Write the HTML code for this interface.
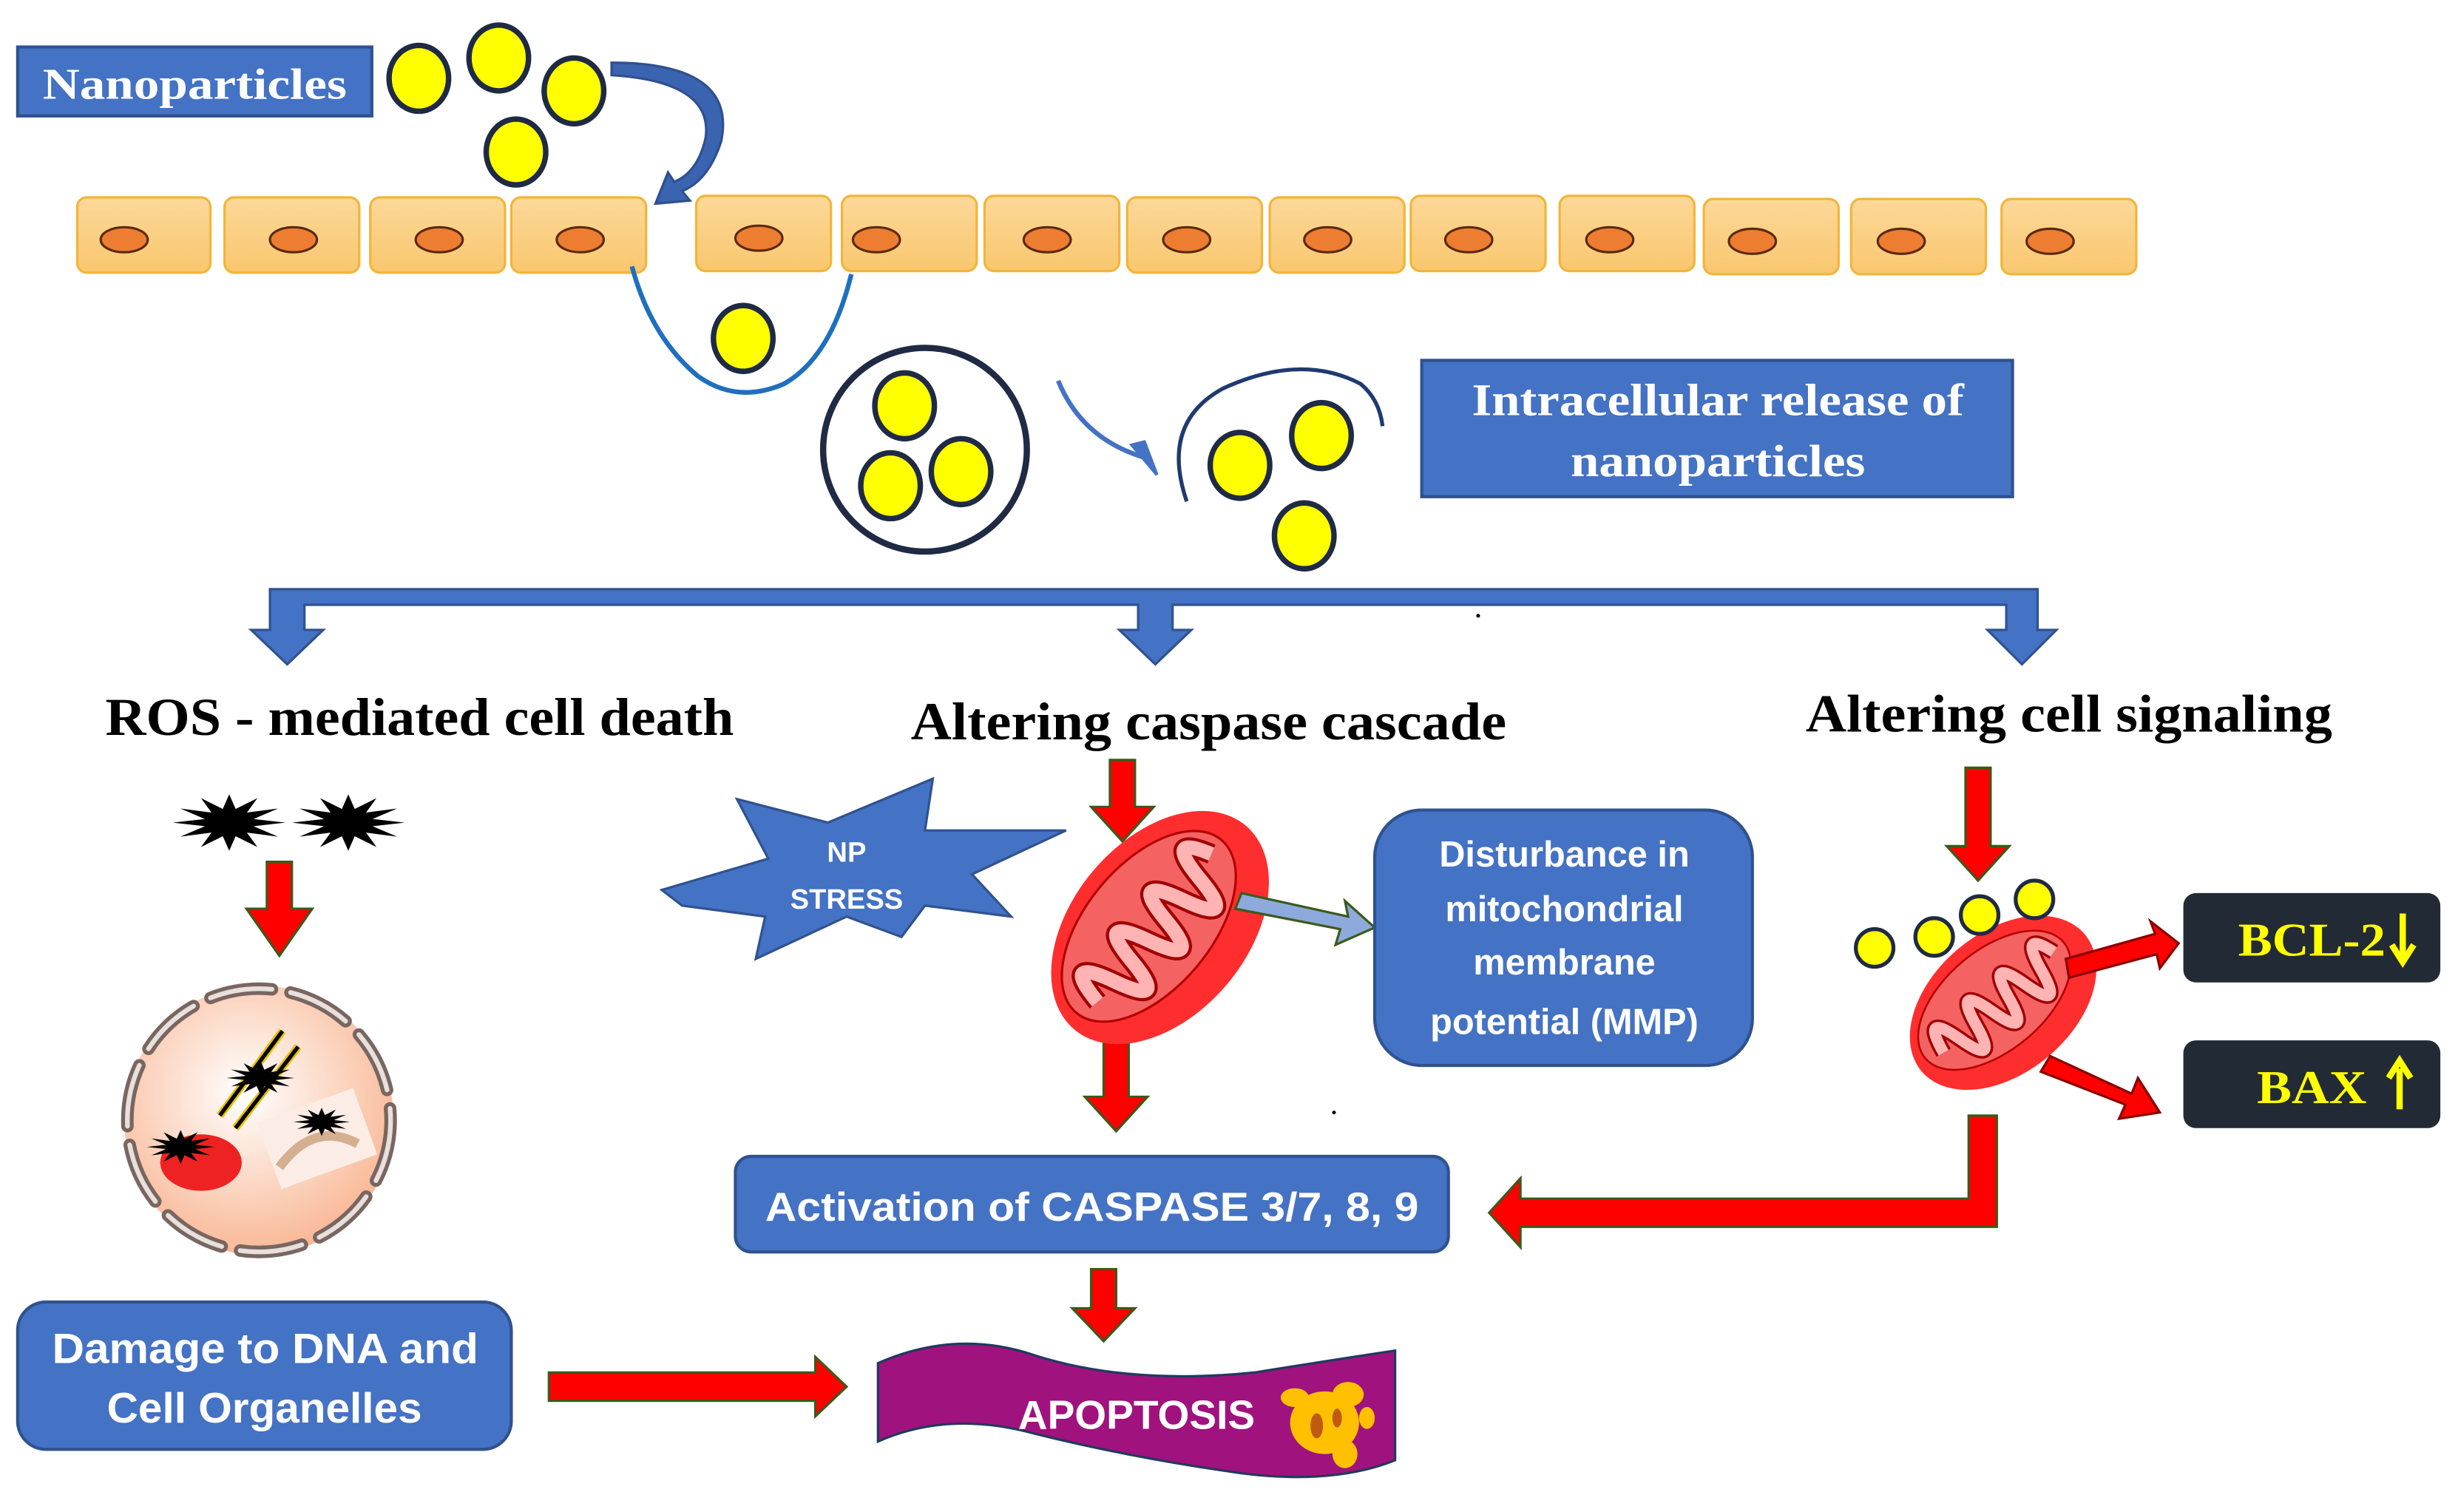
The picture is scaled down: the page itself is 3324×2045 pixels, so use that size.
<!DOCTYPE html>
<html><head><meta charset="utf-8"><style>
html,body{margin:0;padding:0;background:#fff;}
svg{display:block;}
.ser{font-family:"Liberation Serif",serif;font-weight:bold;}
.san{font-family:"Liberation Sans",sans-serif;font-weight:bold;}
</style></head><body>
<svg width="3324" height="2045" viewBox="0 0 1568 965" xmlns="http://www.w3.org/2000/svg">
<defs>
<linearGradient id="cellg" x1="0" y1="0" x2="0" y2="1"><stop offset="0" stop-color="#FCD899"/><stop offset="1" stop-color="#F9C76E"/></linearGradient>
<radialGradient id="peach" cx="0.45" cy="0.4" r="0.6"><stop offset="0" stop-color="#FFFFFF"/><stop offset="1" stop-color="#F9B896"/></radialGradient>
<polygon id="bstar" points="36,0 15.5,2.3 31.2,9 11.3,6.4 18,15.6 4.1,8.7 0,18 -4.1,8.7 -18,15.6 -11.3,6.4 -31.2,9 -15.5,2.3 -36,0 -15.5,-2.3 -31.2,-9 -11.3,-6.4 -18,-15.6 -4.1,-8.7 0,-18 4.1,-8.7 18,-15.6 11.3,-6.4 31.2,-9 15.5,-2.3" fill="#000"/>
<g id="mito">
<ellipse cx="0" cy="0" rx="85" ry="56" fill="#FF2E2E"/>
<ellipse cx="-4" cy="-6" rx="72" ry="40" fill="#F46262" stroke="#B50000" stroke-width="1.5"/>
<path d="M-62,0 Q-55,-38 -45,0 T-28,0 T-11,0 T6,0 T23,0 T40,0 T57,-5" fill="none" stroke="#A00000" stroke-width="13"/>
<path d="M-62,0 Q-55,-38 -45,0 T-28,0 T-11,0 T6,0 T23,0 T40,0 T57,-5" fill="none" stroke="#FFB3B3" stroke-width="9"/>
</g>
<g id="np"><ellipse cx="0" cy="0" rx="19" ry="21" fill="#FFFF00" stroke="#1F2A44" stroke-width="3.5"/></g>
</defs>

<rect x="11" y="30" width="226" height="44" fill="#4472C4" stroke="#2F528F" stroke-width="2"/>
<text x="27" y="63" class="ser" font-size="28" fill="#fff" textLength="194" lengthAdjust="spacingAndGlyphs">Nanoparticles</text>
<use href="#np" x="267" y="50"/>
<use href="#np" x="318" y="37"/>
<use href="#np" x="366" y="58"/>
<use href="#np" x="329" y="97"/>
<path d="M390,40 Q470,40 460,90 Q452,115 435,122 L440,128 L418,130 L426,110 L430,116 Q445,110 450,88 Q455,52 390,48 Z" fill="#3A63B0" stroke="#2F4F8F" stroke-width="1.5"/>

<g stroke="#F2B53A" stroke-width="1.5" fill="url(#cellg)">
<rect x="49" y="126" width="85" height="48" rx="6"/>
<rect x="143" y="126" width="86" height="48" rx="6"/>
<rect x="236" y="126" width="86" height="48" rx="6"/>
<rect x="326" y="126" width="86" height="48" rx="6"/>
<rect x="444" y="125" width="86" height="48" rx="6"/>
<rect x="537" y="125" width="86" height="48" rx="6"/>
<rect x="628" y="125" width="86" height="48" rx="6"/>
<rect x="719" y="126" width="86" height="48" rx="6"/>
<rect x="810" y="126" width="86" height="48" rx="6"/>
<rect x="900" y="125" width="86" height="48" rx="6"/>
<rect x="995" y="125" width="86" height="48" rx="6"/>
<rect x="1087" y="127" width="86" height="48" rx="6"/>
<rect x="1181" y="127" width="86" height="48" rx="6"/>
<rect x="1277" y="127" width="86" height="48" rx="6"/>
</g>
<g fill="#ED7D31" stroke="#5A2A10" stroke-width="1.5">
<ellipse cx="79" cy="153" rx="15" ry="8"/><ellipse cx="187" cy="153" rx="15" ry="8"/>
<ellipse cx="280" cy="153" rx="15" ry="8"/><ellipse cx="370" cy="153" rx="15" ry="8"/>
<ellipse cx="484" cy="152" rx="15" ry="8"/><ellipse cx="559" cy="153" rx="15" ry="8"/>
<ellipse cx="668" cy="153" rx="15" ry="8"/><ellipse cx="757" cy="153" rx="15" ry="8"/>
<ellipse cx="847" cy="153" rx="15" ry="8"/><ellipse cx="937" cy="153" rx="15" ry="8"/>
<ellipse cx="1027" cy="153" rx="15" ry="8"/><ellipse cx="1118" cy="154" rx="15" ry="8"/>
<ellipse cx="1213" cy="154" rx="15" ry="8"/><ellipse cx="1308" cy="154" rx="15" ry="8"/>
</g>

<path d="M403,170 Q415,215 445,240 Q470,258 500,245 Q530,228 543,175" fill="none" stroke="#1F6FBF" stroke-width="3"/>
<use href="#np" x="474" y="216"/>
<circle cx="590" cy="287" r="65" fill="#fff" stroke="#1F2A44" stroke-width="4"/>
<use href="#np" x="577" y="259"/>
<use href="#np" x="568" y="310"/>
<use href="#np" x="613" y="301"/>
<path d="M675,243 Q690,280 730,292" fill="none" stroke="#4472C4" stroke-width="3"/>
<polygon points="722,284 738,303 730,282" fill="#4472C4" stroke="#4472C4" stroke-width="2"/>
<path d="M757,320 Q740,270 780,248 Q830,225 868,245 Q880,255 882,272" fill="none" stroke="#1F3A6F" stroke-width="2.5"/>
<use href="#np" x="791" y="297"/>
<use href="#np" x="843" y="278"/>
<use href="#np" x="832" y="342"/>
<rect x="907" y="230" width="377" height="87" fill="#4472C4" stroke="#2F528F" stroke-width="2"/>
<text x="939" y="265" class="ser" font-size="29" fill="#fff" textLength="314" lengthAdjust="spacingAndGlyphs">Intracellular release of</text>
<text x="1002" y="304" class="ser" font-size="29" fill="#fff" textLength="188" lengthAdjust="spacingAndGlyphs">nanoparticles</text>

<g fill="#4472C4" stroke="#2F528F" stroke-width="1.5">
<path d="M172,376 H1300 V402 H1312 L1290,424 L1268,402 H1280 V386 H748 V402 H760 L737,424 L714,402 H726 V386 H194 V402 H206 L183,424 L160,402 H172 Z"/>
</g>

<text x="67" y="469" class="ser" font-size="34" fill="#000" textLength="401" lengthAdjust="spacingAndGlyphs">ROS - mediated cell death</text>
<text x="581" y="472" class="ser" font-size="34" fill="#000" textLength="380" lengthAdjust="spacingAndGlyphs">Altering caspase cascade</text>
<text x="1152" y="467" class="ser" font-size="34" fill="#000" textLength="336" lengthAdjust="spacingAndGlyphs">Altering cell signaling</text>

<use href="#bstar" x="146" y="525"/>
<use href="#bstar" x="222" y="525"/>
<g fill="#FF0000" stroke="#3A5A1A" stroke-width="1.5">
<path d="M170,550 H186 V580 H199 L178,610 L157,580 H170 Z"/>
<path d="M708,485 H724 V515 H736 L716,537 L696,515 H708 Z"/>
<path d="M704,660 H720 V700 H732 L712,722 L692,700 H704 Z"/>
<path d="M1254,490 H1270 V540 H1282 L1262,562 L1242,540 H1254 Z"/>
<path d="M696,810 H712 V835 H724 L704,856 L684,835 H696 Z"/>
<path d="M350,876 H520 V866 L540,885 L520,904 V894 H350 Z"/>
<path d="M1256,712 H1274 V783 H970 V796 L950,774 L970,752 V765 H1256 Z"/>
</g>
<circle cx="165" cy="715" r="86" fill="url(#peach)"/>
<circle cx="165" cy="715" r="84" fill="none" stroke="#7A6660" stroke-width="8" stroke-dasharray="40 12" stroke-linecap="round"/>
<circle cx="165" cy="715" r="84" fill="none" stroke="#E8E0DC" stroke-width="3" stroke-dasharray="40 12" stroke-linecap="round"/>
<ellipse cx="128" cy="742" rx="26" ry="18" fill="#EE2222"/>
<rect x="170" y="705" width="65" height="45" fill="#FBEDE6" transform="rotate(-20 200 728)"/>
<path d="M178,745 Q200,715 228,730" fill="none" stroke="#D4B090" stroke-width="6"/>
<path d="M140,712 L180,658 M150,720 L190,668" stroke="#E8C000" stroke-width="5" fill="none"/>
<path d="M140,712 L180,658 M150,720 L190,668" stroke="#000" stroke-width="2.5" fill="none"/>
<use href="#bstar" transform="translate(166,688) scale(0.6)"/>
<use href="#bstar" transform="translate(115,732) scale(0.6)"/>
<use href="#bstar" transform="translate(205,716) scale(0.5)"/>

<polygon points="422,568 490,548 470,510 528,525 595,497 590,530 680,530 620,558 645,585 590,578 575,598 540,585 482,612 488,585 435,578" fill="#4472C4" stroke="#2F528F" stroke-width="1.5"/>
<text x="540" y="550" text-anchor="middle" class="san" font-size="18" fill="#fff">NP</text>
<text x="540" y="580" text-anchor="middle" class="san" font-size="18" fill="#fff">STRESS</text>

<g transform="translate(740,592) rotate(-50)"><use href="#mito"/></g>
<polygon points="792,570 860,585 858,575 877,592 852,603 855,593 788,580" fill="#8EA9DB" stroke="#3A5A1A" stroke-width="1.5"/>
<rect x="877" y="517" width="241" height="163" rx="30" fill="#4472C4" stroke="#2F528F" stroke-width="2"/>
<g class="san" font-size="23" fill="#fff" text-anchor="middle">
<text x="998" y="553">Disturbance in</text>
<text x="998" y="588">mitochondrial</text>
<text x="998" y="622">membrane</text>
<text x="998" y="660">potential (MMP)</text>
</g>

<g transform="translate(1278,640) rotate(-40) scale(0.8)"><use href="#mito"/></g>
<g fill="#FFFF00" stroke="#1F2A44" stroke-width="2.5">
<circle cx="1196" cy="605" r="12"/><circle cx="1234" cy="598" r="12"/><circle cx="1263" cy="584" r="12"/><circle cx="1298" cy="574" r="12"/>
</g>
<g fill="#FF0000" stroke="#8B0000" stroke-width="1.5">
<polygon points="1318,612 1375,596 1372,588 1390,602 1378,618 1376,609 1320,624"/>
<polygon points="1308,674 1360,698 1364,688 1378,710 1352,714 1356,705 1302,684"/>
</g>
<rect x="1393" y="570" width="164" height="57" rx="8" fill="#222A35"/>
<text x="1428" y="610" class="ser" font-size="30" fill="#FFFF00" textLength="94" lengthAdjust="spacingAndGlyphs">BCL-2</text>
<path d="M1533,583 V610 M1526,603 L1533,614 L1540,603" stroke="#FFFF00" stroke-width="4" fill="none"/>
<rect x="1393" y="664" width="164" height="56" rx="8" fill="#222A35"/>
<text x="1440" y="704" class="ser" font-size="30" fill="#FFFF00" textLength="70" lengthAdjust="spacingAndGlyphs">BAX</text>
<path d="M1531,682 V708 M1524,688 L1531,677 L1538,688" stroke="#FFFF00" stroke-width="4" fill="none"/>

<rect x="469" y="738" width="455" height="61" rx="10" fill="#4472C4" stroke="#2F528F" stroke-width="2"/>
<text x="488" y="779" class="san" font-size="26" fill="#fff" textLength="417" lengthAdjust="spacingAndGlyphs">Activation of CASPASE 3/7, 8, 9</text>

<rect x="11" y="831" width="315" height="94" rx="18" fill="#4472C4" stroke="#2F528F" stroke-width="2"/>
<text x="33" y="870" class="san" font-size="27" fill="#fff" textLength="272" lengthAdjust="spacingAndGlyphs">Damage to DNA and</text>
<text x="68" y="908" class="san" font-size="27" fill="#fff" textLength="201" lengthAdjust="spacingAndGlyphs">Cell Organelles</text>

<path d="M560,870 Q610,848 660,865 Q720,884 800,876 Q850,868 890,862 L890,932 Q850,948 790,940 Q720,930 660,915 Q605,900 560,920 Z" fill="#A0127E" stroke="#1F3A5F" stroke-width="1.5"/>
<text x="725" y="912" text-anchor="middle" class="san" font-size="26" fill="#fff">APOPTOSIS</text>
<g fill="#FFC000">
<ellipse cx="845" cy="908" rx="22" ry="20"/>
<ellipse cx="860" cy="890" rx="10" ry="8"/>
<ellipse cx="826" cy="892" rx="9" ry="6"/>
<ellipse cx="858" cy="928" rx="8" ry="9"/>
<ellipse cx="872" cy="905" rx="5" ry="7"/>
</g>
<ellipse cx="840" cy="910" rx="4" ry="8" fill="#C05A10"/>
<ellipse cx="853" cy="905" rx="3" ry="6" fill="#C05A10"/>
<circle cx="943" cy="393" r="1.2" fill="#000"/>
<circle cx="851" cy="710" r="1.2" fill="#000"/>
</svg>
</body></html>
